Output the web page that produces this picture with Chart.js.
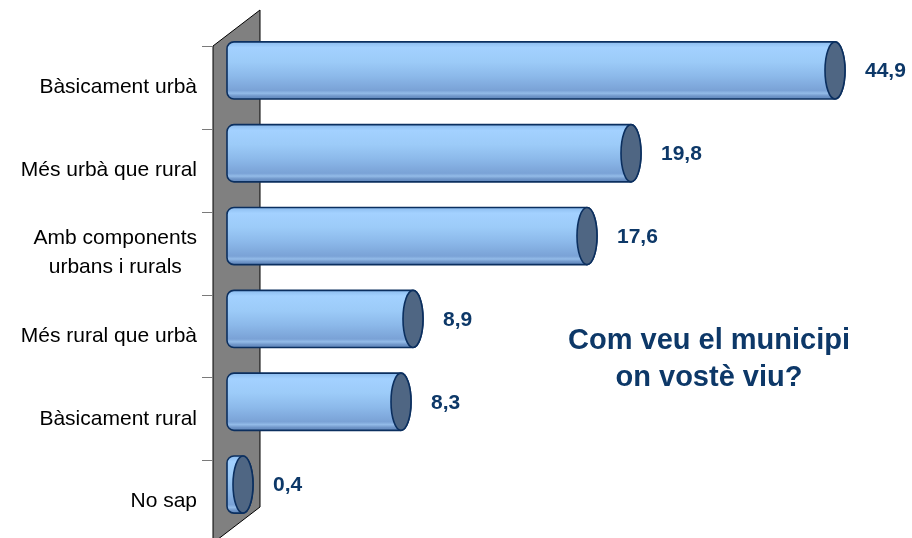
<!DOCTYPE html>
<html>
<head>
<meta charset="utf-8">
<script src="https://cdn.jsdelivr.net/npm/chart.js@4"></script>
<style>
html,body{margin:0;padding:0;background:#fff;}
#wrap{width:912px;height:538px;position:relative;}
</style>
</head>
<body>
<div id="wrap"><canvas id="c"></canvas></div>
<script>
const categories = [
  ["Bàsicament urbà"],
  ["Més urbà que rural"],
  ["Amb components", "urbans i rurals"],
  ["Més rural que urbà"],
  ["Bàsicament rural"],
  ["No sap"]
];
const values = [44.9, 19.8, 17.6, 8.9, 8.3, 0.4];
const titleLines = ["Com veu el municipi", "on vostè viu?"];
const axisMin = 0;
const axisMax = 30;

const NAVY = '#0d3868';
const OUTLINE = '#0b2f5f';
const DEPTH_FRONT = {dx: -22, dy: 17};
const DEPTH_BACK = {dx: 25, dy: -19};

const cylinderPlugin = {
  id: 'cylinders',
  beforeDatasetsDraw(chart) {
    const ctx = chart.ctx;
    const a = chart.chartArea;
    const ys = chart.scales.y;
    const n = categories.length;
    const fx = a.left + DEPTH_FRONT.dx, bx = a.left + DEPTH_BACK.dx;
    // wall
    ctx.save();
    ctx.beginPath();
    ctx.moveTo(fx, a.top + DEPTH_FRONT.dy);
    ctx.lineTo(bx, a.top + DEPTH_BACK.dy);
    ctx.lineTo(bx, a.bottom + DEPTH_BACK.dy);
    ctx.lineTo(fx, a.bottom + DEPTH_FRONT.dy);
    ctx.closePath();
    ctx.fillStyle = '#808080';
    ctx.fill();
    ctx.strokeStyle = '#000';
    ctx.lineWidth = 1;
    ctx.stroke();
    // tick marks
    ctx.strokeStyle = '#7a7a7a';
    const step = (a.bottom - a.top) / n;
    for (let i = 0; i <= n; i++) {
      const y = Math.round(a.top + i * step + DEPTH_FRONT.dy) + 0.5;
      ctx.beginPath();
      ctx.moveTo(fx - 11, y);
      ctx.lineTo(fx, y);
      ctx.stroke();
    }
    // category labels
    ctx.fillStyle = '#000';
    ctx.font = '21px "Liberation Sans", Arial, sans-serif';
    ctx.textBaseline = 'middle';
    const rightX = fx - 16;
    categories.forEach((lines, i) => {
      const cy = ys.getPixelForValue(i) + DEPTH_FRONT.dy;
      const lh = 29;
      if (lines.length === 1) {
        ctx.textAlign = 'right';
        ctx.fillText(lines[0], rightX, cy);
      } else {
        const w = Math.max(...lines.map(l => ctx.measureText(l).width));
        ctx.textAlign = 'center';
        lines.forEach((l, k) => {
          ctx.fillText(l, rightX - w / 2, cy + (k - (lines.length - 1) / 2) * lh);
        });
      }
    });
    ctx.restore();
  },
  afterDatasetsDraw(chart) {
    const ctx = chart.ctx;
    const a = chart.chartArea;
    const meta = chart.getDatasetMeta(0);
    ctx.save();
    meta.data.forEach((el, i) => {
      const p = el.getProps(['x', 'y', 'base', 'height'], true);
      const base = p.base;
      const xe = Math.min(p.x, a.right);
      const h = p.height;
      const top = p.y - h / 2, bottom = p.y + h / 2;
      const ry = h / 2, rxR = 10, L = base - 8, r = 7;
      const g = ctx.createLinearGradient(0, top, 0, bottom);
      g.addColorStop(0, '#8cbcee');
      g.addColorStop(0.1, '#a3d1ff');
      g.addColorStop(0.35, '#9ccbf8');
      g.addColorStop(0.6, '#8cb9ea');
      g.addColorStop(0.85, '#7aa2d6');
      g.addColorStop(0.9, '#93bbe8');
      g.addColorStop(0.95, '#6f95c8');
      g.addColorStop(1, '#5f86bb');
      ctx.beginPath();
      ctx.moveTo(base, top);
      ctx.lineTo(xe, top);
      ctx.ellipse(xe, p.y, rxR, ry, 0, -Math.PI / 2, Math.PI / 2, false);
      ctx.lineTo(base, bottom);
      ctx.arcTo(L, bottom, L, top, r);
      ctx.arcTo(L, top, base, top, r);
      ctx.closePath();
      ctx.fillStyle = g;
      ctx.fill();
      ctx.strokeStyle = OUTLINE;
      ctx.lineWidth = 1.6;
      ctx.stroke();
      // end cap
      ctx.beginPath();
      ctx.ellipse(xe, p.y, rxR, ry, 0, 0, Math.PI * 2);
      ctx.fillStyle = '#4f6683';
      ctx.fill();
      ctx.stroke();
      // value label
      ctx.fillStyle = NAVY;
      ctx.font = 'bold 21px "Liberation Sans", Arial, sans-serif';
      ctx.textAlign = 'left';
      ctx.textBaseline = 'middle';
      ctx.fillText(values[i].toFixed(1).replace('.', ','), xe + 30, p.y + 1);
    });
    // title text
    ctx.fillStyle = NAVY;
    ctx.font = 'bold 29px "Liberation Sans", Arial, sans-serif';
    ctx.textAlign = 'center';
    ctx.textBaseline = 'middle';
    titleLines.forEach((t, k) => ctx.fillText(t, 709, 341 + k * 37));
    ctx.restore();
  }
};

new Chart(document.getElementById('c'), {
  type: 'bar',
  data: {
    labels: categories,
    datasets: [{
      data: values,
      backgroundColor: 'rgba(0,0,0,0)',
      borderWidth: 0,
      barPercentage: 0.69,
      categoryPercentage: 1
    }]
  },
  options: {
    indexAxis: 'y',
    responsive: true,
    maintainAspectRatio: false,
    animation: false,
    layout: {padding: {left: 235, right: 77, top: 29, bottom: 12}},
    plugins: {legend: {display: false}, tooltip: {enabled: false}, title: {display: false}},
    scales: {
      x: {display: false, min: axisMin, max: axisMax},
      y: {display: false}
    }
  },
  plugins: [cylinderPlugin]
});
</script>
</body>
</html>
